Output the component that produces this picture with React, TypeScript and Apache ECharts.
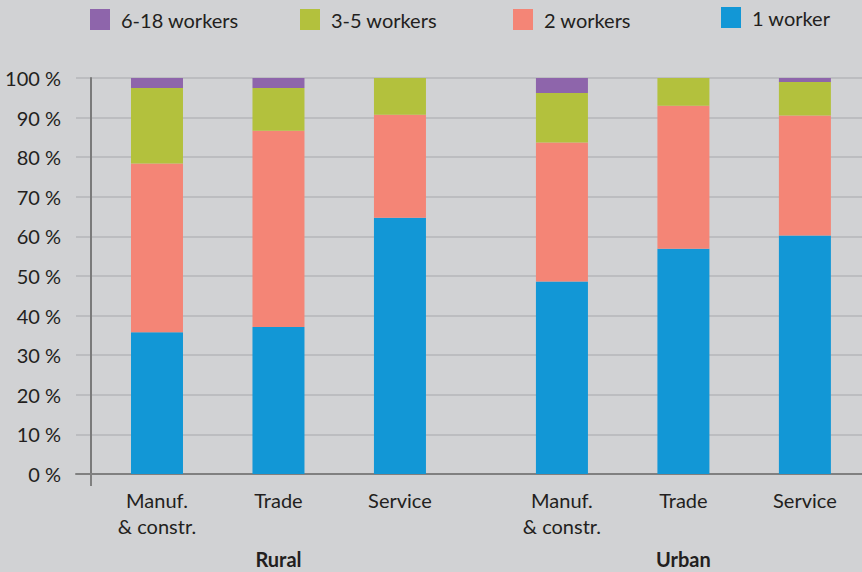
import React, { useEffect, useRef } from 'react';
import * as echarts from 'echarts';

const categories = ['Manuf.\n& constr.', 'Trade', 'Service', 'Manuf.\n& constr.', 'Trade', 'Service'];
const groups = ['Rural', 'Urban'];
const seriesNames = ['1 worker', '2 workers', '3-5 workers', '6-18 workers'];
const oneWorker = [35.8, 37.1, 64.7, 48.6, 56.9, 60.2];
const twoWorkers = [42.6, 49.6, 26.0, 35.1, 36.1, 30.3];
const threeToFive = [19.1, 10.8, 9.3, 12.5, 7.0, 8.5];
const sixToEighteen = [2.5, 2.5, 0, 3.8, 0, 1.0];
const yMin = 0;
const yMax = 100;
const yStep = 10;

const COLORS = ['#1297d6', '#f48576', '#b3c13d', '#8e65ab'];
const FONT = 'Lato';
const TEXT = '#231f20';

export default function App() {
  const ref = useRef<HTMLDivElement>(null);
  useEffect(() => {
    if (!ref.current) return;
    const chart = echarts.init(ref.current, null, { renderer: 'svg' });
    // layout: 3 categories per group, slots of 3 units, extra unit gap between groups
    const perGroup = 3;
    const xPos = categories.map((_, i) => 2 + i * 3 + Math.floor(i / perGroup));
    const groupPos = groups.map((_, g) => xPos[g * perGroup + 1]);
    const xMax = 19.41;
    const values = [oneWorker, twoWorkers, threeToFive, sixToEighteen];

    const legendLeft = [721, 513, 300, 90];
    const legendTop = [7, 9, 9, 9];

    chart.setOption({
      animation: false,
      backgroundColor: '#d1d2d4',
      legend: seriesNames.map((n, i) => ({
        data: [n],
        left: legendLeft[i],
        top: legendTop[i],
        padding: 0,
        itemWidth: 20,
        itemHeight: 21,
        icon: 'rect',
        selectedMode: false,
        textStyle: { fontFamily: FONT, fontSize: 20, color: TEXT, padding: [0, 0, 0, 6] },
      })),
      grid: { left: 76, right: 0, top: 78, bottom: 95, containLabel: false },
      xAxis: [
        {
          type: 'value',
          min: 0,
          max: xMax,
          splitLine: { show: false },
          axisLine: { show: true, onZero: false, lineStyle: { color: '#808080', width: 2 } },
          axisTick: {
            show: true,
            customValues: [0.37],
            length: 12,
            inside: false,
            lineStyle: { color: '#808080', width: 2 },
          },
          axisLabel: {
            customValues: xPos,
            formatter: (v: number) => {
              const idx = xPos.indexOf(v);
              return idx >= 0 ? categories[idx] : '';
            },
            margin: 13,
            fontFamily: FONT,
            fontSize: 20,
            lineHeight: 26,
            color: TEXT,
          },
        },
        {
          type: 'value',
          position: 'bottom',
          min: 0,
          max: xMax,
          splitLine: { show: false },
          axisLine: { show: false },
          axisTick: { show: false },
          axisLabel: {
            customValues: groupPos,
            formatter: (v: number) => {
              const idx = groupPos.indexOf(v);
              return idx >= 0 ? groups[idx] : '';
            },
            margin: 72,
            fontFamily: FONT,
            fontSize: 20,
            fontWeight: 'bold',
            lineHeight: 26,
            color: TEXT,
          },
        },
      ],
      yAxis: {
        type: 'value',
        min: yMin,
        max: yMax,
        interval: yStep,
        offset: -15,
        axisLine: { show: true, lineStyle: { color: '#7a7a7a', width: 2 } },
        axisTick: { show: false },
        splitLine: { show: true, lineStyle: { color: '#bcbdc0', width: 2 } },
        axisLabel: {
          formatter: '{value} %',
          margin: 30,
          fontFamily: FONT,
          fontSize: 20,
          color: TEXT,
        },
      },
      series: seriesNames.map((n, i) => ({
        name: n,
        type: 'bar',
        stack: 'total',
        xAxisIndex: 0,
        barWidth: 52,
        itemStyle: { color: COLORS[i] },
        // value first so the stack is applied to the y dimension
        encode: { x: 1, y: 0 },
        data: values[i].map((v, j) => [v, xPos[j]]),
      })),
    });
    return () => chart.dispose();
  }, []);
  return (
    <div
      ref={ref}
      style={{ position: 'fixed', left: 0, top: 0, width: 862, height: 572 }}
    />
  );
}
